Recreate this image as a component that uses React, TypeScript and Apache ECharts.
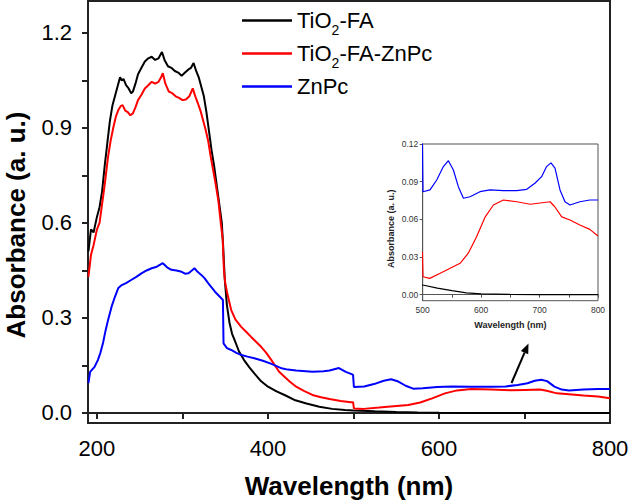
import React, { useEffect, useRef } from 'react';
import * as echarts from 'echarts';

const FONT = '"Liberation Sans", Arial, Helvetica, sans-serif';

const seriesNames = ['TiO2-FA', 'TiO2-FA-ZnPc', 'ZnPc'];
const seriesColors = ['#000000', '#ff0000', '#0000ff'];

// TiO2-FA
const tio2faWl = [190, 193, 196, 200, 203, 206, 209, 212, 215, 218, 221, 224, 227, 229, 231, 234, 237, 240, 242, 245, 248, 252, 256, 260, 264, 268, 272, 276, 279, 283, 287, 291, 295, 299, 303, 307, 310, 313, 316, 319, 322, 325, 328, 331, 334, 337, 340, 343, 346, 347.5, 349.5, 352, 355, 358, 361, 366, 372, 378, 384, 392, 400, 410, 420, 432, 445, 460, 475, 490, 500, 525, 550, 575, 600, 650, 700, 800];
const tio2faAbs = [0.51, 0.58, 0.57, 0.62, 0.65, 0.7, 0.78, 0.85, 0.92, 0.97, 1.0, 1.03, 1.06, 1.05, 1.055, 1.035, 1.025, 1.01, 1.015, 1.04, 1.07, 1.09, 1.11, 1.12, 1.125, 1.115, 1.12, 1.14, 1.115, 1.095, 1.09, 1.08, 1.075, 1.065, 1.075, 1.085, 1.09, 1.105, 1.08, 1.06, 1.03, 1.0, 0.95, 0.89, 0.83, 0.78, 0.72, 0.66, 0.6, 0.53, 0.42, 0.34, 0.285, 0.25, 0.23, 0.195, 0.167, 0.145, 0.125, 0.1, 0.083, 0.068, 0.056, 0.04, 0.03, 0.02, 0.013, 0.0095, 0.0077, 0.0052, 0.0032, 0.0015, 0.0006, 0.0002, 0.0001, 0.0];

// TiO2-FA-ZnPc
const tio2faZnpcWl = [190, 193, 196, 200, 203, 206, 209, 213, 216, 219, 222, 225, 228, 230, 233, 236, 239, 242, 245, 248, 252, 256, 260, 264, 268, 272, 275, 277, 280, 284, 288, 292, 296, 300, 304, 308, 312, 315, 318, 321, 324, 327, 330, 333, 336, 339, 342, 345, 347, 348.5, 350, 353, 357, 362, 368.7, 375, 380, 386, 392, 398, 404, 413, 419, 425, 433, 442, 452, 462, 472, 485, 497, 499.5, 500.5, 512, 530, 547, 564, 578, 592, 607, 621, 638, 661, 684, 701, 718, 726, 738, 752, 769, 786, 800];
const tio2faZnpcAbs = [0.43, 0.5, 0.53, 0.58, 0.6, 0.66, 0.72, 0.81, 0.86, 0.9, 0.935, 0.957, 0.97, 0.972, 0.955, 0.95, 0.94, 0.946, 0.965, 0.988, 1.005, 1.025, 1.035, 1.046, 1.04, 1.046, 1.06, 1.073, 1.04, 1.015, 1.01, 1.0, 0.995, 0.988, 0.99, 1.0, 1.025, 1.0, 0.978, 0.955, 0.925, 0.895, 0.86, 0.81, 0.765, 0.72, 0.67, 0.595, 0.55, 0.45, 0.41, 0.37, 0.325, 0.295, 0.272, 0.255, 0.241, 0.225, 0.209, 0.19, 0.167, 0.13, 0.115, 0.1, 0.083, 0.07, 0.057, 0.05, 0.044, 0.038, 0.034, 0.034, 0.0143, 0.013, 0.017, 0.021, 0.025, 0.033, 0.046, 0.062, 0.0714, 0.0754, 0.074, 0.072, 0.073, 0.074, 0.07, 0.062, 0.0595, 0.0555, 0.052, 0.0467];

// ZnPc
const znpcWl = [190, 192, 194, 197, 201, 204, 207, 210, 213, 217, 221, 225, 229, 234, 240, 246, 252, 258, 264, 270, 277, 282, 287, 293, 299, 303, 307, 311, 314, 318, 322, 326, 330, 334, 338, 342, 347.3, 348, 352, 357, 363, 369, 376, 384, 394, 404, 416, 423, 433, 452, 465, 472, 483, 491, 498.5, 499.5, 500.5, 512.5, 524, 535.4, 544, 552.5, 561, 569.7, 581, 598, 615, 638, 661, 678, 692, 703.5, 712, 719.5, 726.4, 735, 743.5, 752, 769, 786, 800];
const znpcAbs = [0.094, 0.13, 0.136, 0.145, 0.167, 0.19, 0.22, 0.26, 0.294, 0.335, 0.367, 0.395, 0.404, 0.41, 0.42, 0.43, 0.441, 0.45, 0.457, 0.462, 0.473, 0.46, 0.452, 0.45, 0.446, 0.44, 0.441, 0.45, 0.457, 0.445, 0.436, 0.425, 0.41, 0.397, 0.383, 0.372, 0.357, 0.22, 0.205, 0.199, 0.19, 0.183, 0.178, 0.173, 0.165, 0.155, 0.141, 0.137, 0.134, 0.13, 0.132, 0.134, 0.142, 0.13, 0.122, 0.12, 0.082, 0.0834, 0.0913, 0.102, 0.1067, 0.0993, 0.086, 0.0768, 0.078, 0.082, 0.0834, 0.0828, 0.0828, 0.0839, 0.0887, 0.094, 0.102, 0.105, 0.1007, 0.0834, 0.074, 0.0714, 0.074, 0.0754, 0.0754];

const xTickValues = [200, 300, 400, 500, 600, 700, 800];
const xLabelValues = [200, 400, 600, 800];
const yTickValues = [0, 0.15, 0.3, 0.45, 0.6, 0.75, 0.9, 1.05, 1.2];
const yLabelValues = [0, 0.3, 0.6, 0.9, 1.2];
const insetXTickValues = [500, 550, 600, 650, 700, 750, 800];
const insetXLabelValues = [500, 600, 700, 800];
const insetYLabelValues = [0, 0.03, 0.06, 0.09, 0.12];

const wlSets = [tio2faWl, tio2faZnpcWl, znpcWl];
const absSets = [tio2faAbs, tio2faZnpcAbs, znpcAbs];

export default function App() {
  const ref = useRef<HTMLDivElement>(null);
  useEffect(() => {
    document.body.style.margin = '0';
    if (!ref.current) return;
    const chart = echarts.init(ref.current, null, { renderer: 'svg' });
    const pairs = seriesNames.map((_, i) => wlSets[i].map((w, j) => [w, absSets[i][j]]));
    const mainSeries = seriesNames.map((name, i) => ({
      type: 'line',
      name,
      xAxisIndex: 0,
      yAxisIndex: 0,
      data: pairs[i],
      showSymbol: false,
      symbol: 'none',
      clip: true,
      lineStyle: { color: seriesColors[i], width: 2 },
      itemStyle: { color: seriesColors[i] },
      z: 3,
    }));
    const insetSeries = seriesNames.map((name, i) => ({
      type: 'line',
      name,
      xAxisIndex: 1,
      yAxisIndex: 1,
      data: pairs[i].filter((p) => p[0] >= 490),
      showSymbol: false,
      symbol: 'none',
      clip: true,
      lineStyle: { color: seriesColors[i], width: 1.2 },
      itemStyle: { color: seriesColors[i] },
      z: 4,
    }));

    // arrow geometry
    const tail = [511.5, 383];
    const tip = [528.5, 343.5];
    const dx = tip[0] - tail[0];
    const dy = tip[1] - tail[1];
    const len = Math.sqrt(dx * dx + dy * dy);
    const ux = dx / len;
    const uy = dy / len;
    const hl = 10;
    const hw = 4;
    const bx = tip[0] - ux * hl;
    const by = tip[1] - uy * hl;
    const px = -uy;
    const py = ux;

    chart.setOption({
      animation: false,
      textStyle: { fontFamily: FONT },
      legend: {
        data: seriesNames,
        orient: 'vertical',
        left: 242,
        top: 4,
        padding: 0,
        itemGap: 0,
        itemWidth: 50,
        itemHeight: 2.5,
        icon: 'rect',
        selectedMode: false,
        formatter: (name: string) => name.replace('TiO2', 'TiO{sub|2}'),
        textStyle: {
          fontFamily: FONT,
          fontSize: 22,
          color: '#000',
          lineHeight: 33,
          rich: {
            sub: { fontFamily: FONT, fontSize: 14, color: '#000', verticalAlign: 'bottom', lineHeight: 6 },
          },
        },
      },
      grid: [
        { left: 88, right: 20, top: 1, bottom: 77, show: true, borderColor: '#222', borderWidth: 2, backgroundColor: 'transparent', containLabel: false, outerBoundsMode: 'none' },
        { left: 422.7, right: 32, top: 144, bottom: 199.3, show: true, borderColor: '#555', borderWidth: 1, backgroundColor: 'transparent', containLabel: false, outerBoundsMode: 'none' },
      ],
      xAxis: [
        {
          type: 'value',
          gridIndex: 0,
          min: 189.5,
          max: 800,
          name: 'Wavelength (nm)',
          nameLocation: 'middle',
          nameGap: 50,
          nameTextStyle: { fontFamily: FONT, fontSize: 26, fontWeight: 'bold', color: '#000' },
          axisLine: { show: true, lineStyle: { color: '#222', width: 2 } },
          axisTick: { show: true, length: 6, customValues: xTickValues, lineStyle: { color: '#222', width: 2 } },
          axisLabel: { customValues: xLabelValues, fontFamily: FONT, fontSize: 22, color: '#000', margin: 14, formatter: (v: number) => String(v) },
          splitLine: { show: false },
        },
        {
          type: 'value',
          gridIndex: 1,
          min: 500,
          max: 800,
          name: 'Wavelength (nm)',
          nameLocation: 'middle',
          nameGap: 20,
          nameTextStyle: { fontFamily: FONT, fontSize: 9, fontWeight: 'bold', color: '#222' },
          axisLine: { show: true, lineStyle: { color: '#555', width: 1 } },
          axisTick: { show: true, length: 3, customValues: insetXTickValues, lineStyle: { color: '#555', width: 1 } },
          axisLabel: { customValues: insetXLabelValues, fontFamily: FONT, fontSize: 8.5, color: '#333', margin: 5, formatter: (v: number) => String(v) },
          splitLine: { show: false },
        },
      ],
      yAxis: [
        {
          type: 'value',
          gridIndex: 0,
          min: -0.0316,
          max: 1.301,
          name: 'Absorbance (a. u.)',
          nameLocation: 'middle',
          nameGap: 59,
          nameTextStyle: { fontFamily: FONT, fontSize: 26, fontWeight: 'bold', color: '#000', padding: [0, 26, 0, 0] },
          axisLine: { show: true, lineStyle: { color: '#222', width: 2 } },
          axisTick: { show: true, length: 6, customValues: yTickValues, lineStyle: { color: '#222', width: 2 } },
          axisLabel: { customValues: yLabelValues, fontFamily: FONT, fontSize: 22, color: '#000', margin: 16, formatter: (v: number) => v.toFixed(1) },
          splitLine: { show: false },
        },
        {
          type: 'value',
          gridIndex: 1,
          min: -0.0048,
          max: 0.12,
          name: 'Absorbance (a. u.)',
          nameLocation: 'middle',
          nameGap: 27,
          nameTextStyle: { fontFamily: FONT, fontSize: 9, fontWeight: 'bold', color: '#222', padding: [0, 13, 0, 0] },
          axisLine: { show: true, lineStyle: { color: '#555', width: 1 } },
          axisTick: { show: true, length: 3, customValues: insetYLabelValues, lineStyle: { color: '#555', width: 1 } },
          axisLabel: { customValues: insetYLabelValues, fontFamily: FONT, fontSize: 8.5, color: '#333', margin: 4.5, formatter: (v: number) => v.toFixed(2) },
          splitLine: { show: false },
        },
      ],
      graphic: [
        {
          type: 'line',
          shape: { x1: tail[0], y1: tail[1], x2: bx, y2: by },
          style: { stroke: '#000', lineWidth: 2 },
          z: 10,
        },
        {
          type: 'polygon',
          shape: { points: [[tip[0], tip[1]], [bx + px * hw, by + py * hw], [bx - px * hw, by - py * hw]] },
          style: { fill: '#000' },
          z: 10,
        },
      ],
      series: [...mainSeries, ...insetSeries],
    });
    return () => chart.dispose();
  }, []);
  return <div ref={ref} style={{ position: 'absolute', left: 0, top: 0, width: 630, height: 500 }} />;
}
